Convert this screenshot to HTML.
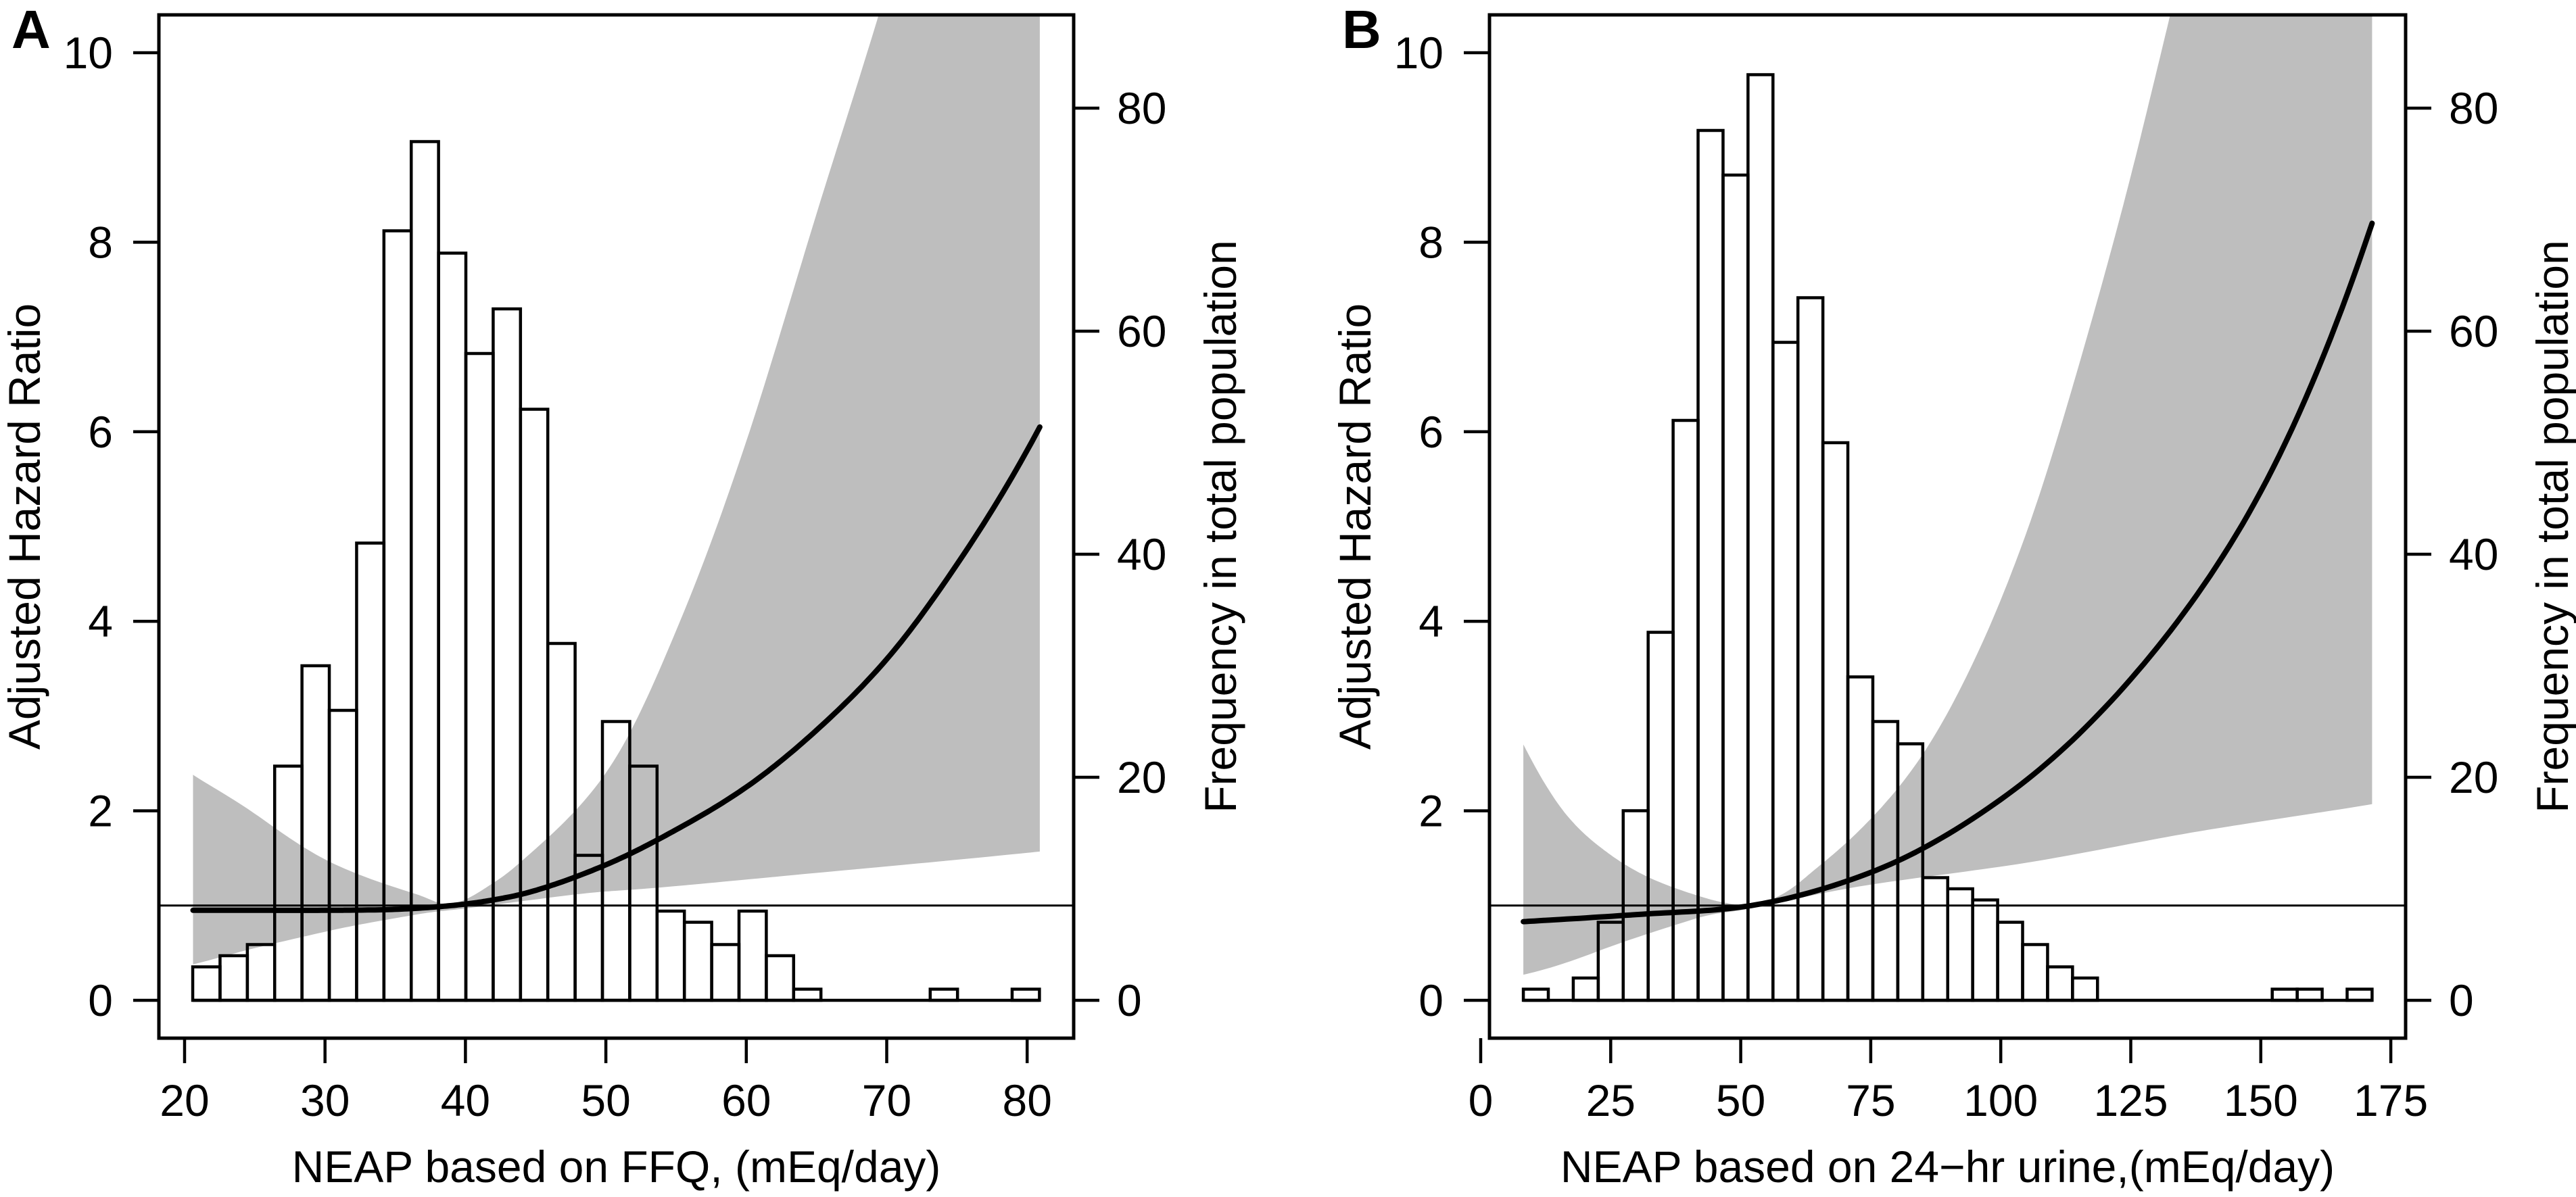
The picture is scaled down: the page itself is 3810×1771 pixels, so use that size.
<!DOCTYPE html>
<html><head><meta charset="utf-8"><style>
html,body{margin:0;padding:0;background:#fff}
svg{display:block}
text{font-family:"Liberation Sans",Arial,sans-serif;fill:#000}
</style></head><body>
<svg id="chart" width="3810" height="1771" viewBox="0 0 3810 1771" xmlns="http://www.w3.org/2000/svg">
<defs>
<clipPath id="clipA"><rect x="235" y="22" width="1353" height="1514"/></clipPath>
<clipPath id="clipB"><rect x="2203" y="22" width="1355" height="1514"/></clipPath>
</defs>
<g id="panelA"></g>
<g id="panelB"></g>
</svg>
<script>
// ----- Panel A data -----
const histA_start = 20.58;
const histA_width = 1.945;
const histA_counts = [3,4,5,21,30,26,41,69,77,67,58,62,53,32,13,25,21,8,7,5,8,4,1,0,0,0,0,1,0,0,1];
const curveA_x = [20.6,25,30,35,39,42,45,50,55,60,65,70,75,80.9];
const curveA_hr = [0.95,0.95,0.95,0.96,1.0,1.06,1.16,1.43,1.8,2.25,2.85,3.6,4.6,6.05];
const upperA_x = [20.6,24.7,30.5,36.3,39,42.1,45,50,55,60,65,71,76,80.9];
const upperA_hr = [2.38,2.0,1.45,1.13,1.02,1.25,1.6,2.4,3.9,5.9,8.3,11.2,14,17];
const lowerA_x = [20.6,24.7,30.5,36.3,40,48,53.8,65.4,80.9];
const lowerA_hr = [0.38,0.54,0.74,0.9,0.97,1.12,1.19,1.35,1.57];
const xTicksA = [20,30,40,50,60,70,80];
// ----- Panel B data -----
const histB_start = 8.2;
const histB_width = 4.8;
const histB_counts = [1,0,2,7,17,33,52,78,74,83,59,63,50,29,25,23,11,10,9,7,5,3,2,0,0,0,0,0,0,0,1,1,0,1];
const curveB_x = [8.2,30,52,75,100,125,150,171.4];
const curveB_hr = [0.83,0.905,1.0,1.35,2.12,3.39,5.37,8.2];
const upperB_x = [8.2,16.6,24.6,32.6,42,47,52,58,64.7,72,83.8,95,104.7,115,125,134.3,150,171.4];
const upperB_hr = [2.7,1.95,1.55,1.29,1.1,1.03,1.0,1.12,1.4,1.75,2.5,3.6,4.9,6.7,8.7,10.8,15,22];
const lowerB_x = [8.2,24.6,40.6,52,72.6,104.7,136.7,171.4];
const lowerB_hr = [0.27,0.56,0.85,0.97,1.2,1.45,1.77,2.07];
const xTicksB = [0,25,50,75,100,125,150,175];
const yTicksLeft = [0,2,4,6,8,10];
const yTicksRight = [0,20,40,60,80];

const NS = "http://www.w3.org/2000/svg";
function mk(parent, tag, attrs){ const e=document.createElementNS(NS,tag); for(const k in attrs) e.setAttribute(k,attrs[k]); parent.appendChild(e); return e; }
function sampleLog(xs, hs){
  const ls = hs.map(Math.log);
  const out=[];
  for(let i=0;i<xs.length-1;i++){
    const i0=Math.max(i-1,0), i3=Math.min(i+2,xs.length-1);
    for(let s=0;s<20;s++){
      const t=s/20;
      const cr=(p0,p1,p2,p3)=>0.5*((2*p1)+(-p0+p2)*t+(2*p0-5*p1+4*p2-p3)*t*t+(-p0+3*p1-3*p2+p3)*t*t*t);
      out.push([cr(xs[i0],xs[i],xs[i+1],xs[i3]), Math.exp(cr(ls[i0],ls[i],ls[i+1],ls[i3]))]);
    }
  }
  out.push([xs[xs.length-1],hs[hs.length-1]]);
  return out;
}
function poly(pts){ return pts.map((p,i)=>(i?"L":"M")+p[0].toFixed(1)+","+p[1].toFixed(1)).join(" "); }

function panel(g, cfg){
  const X = v => cfg.x0 + (v - cfg.xv0) * cfg.xs;
  const YL = v => 1480 - v * 140.2;
  const YR = v => 1480 - v * 16.5;
  const L=cfg.left, R=cfg.right, T=22, B=1536;
  const up = sampleLog(cfg.ux,cfg.uh).map(p=>[X(p[0]),YL(p[1])]);
  const lo = sampleLog(cfg.lx,cfg.lh).map(p=>[X(p[0]),YL(p[1])]).reverse();
  const band = mk(g,"path",{d: poly(up)+" "+poly(lo).replace(/^M/,"L")+" Z", fill:"#bebebe", stroke:"none", "clip-path":"url(#"+cfg.clip+")"});
  
  
  cfg.counts.forEach((c,i)=>{
    const x1=X(cfg.hs+i*cfg.hw), x2=X(cfg.hs+(i+1)*cfg.hw);
    if(c>0){
      const r=mk(g,"rect",{x:x1,y:YR(c),width:x2-x1,height:YR(0)-YR(c),fill:"none",stroke:"#000","stroke-width":4.5});
      
      
    }
  });
  const base=mk(g,"line",{x1:X(cfg.hs),x2:X(cfg.hs+cfg.counts.length*cfg.hw),y1:YR(0),y2:YR(0),stroke:"#000","stroke-width":4.5});
  
  
  const ref=mk(g,"line",{x1:L,x2:R,y1:YL(1),y2:YL(1),stroke:"#000","stroke-width":3});
  
  
  const cp = sampleLog(cfg.cx,cfg.ch).map(p=>[X(p[0]),YL(p[1])]);
  const cur=mk(g,"path",{d:poly(cp),fill:"none",stroke:"#000","stroke-width":8,"stroke-linecap":"round","stroke-linejoin":"round"});
  
  
  const box=mk(g,"rect",{x:L,y:T,width:R-L,height:B-T,fill:"none",stroke:"#000","stroke-width":5});
  
  
  cfg.xt.forEach(v=>{
    const t=mk(g,"line",{x1:X(v),x2:X(v),y1:B,y2:1573,stroke:"#000","stroke-width":4.5});
    
    
    const l=mk(g,"text",{x:X(v),y:1651,"font-size":66,"text-anchor":"middle"}); l.textContent=v;
    
    
  });
  yTicksLeft.forEach(v=>{
    const t=mk(g,"line",{x1:L-38,x2:L,y1:YL(v),y2:YL(v),stroke:"#000","stroke-width":4.5});
    
    
    const l=mk(g,"text",{x:L-68,y:YL(v)+23,"font-size":66,"text-anchor":"end"}); l.textContent=v;
    
    
  });
  yTicksRight.forEach(v=>{
    const t=mk(g,"line",{x1:R,x2:R+38,y1:YR(v),y2:YR(v),stroke:"#000","stroke-width":4.5});
    
    
    const l=mk(g,"text",{x:R+64,y:YR(v)+23,"font-size":66,"text-anchor":"start"}); l.textContent=v;
    
    
  });
  const xt=mk(g,"text",{x:(L+R)/2,y:1749,"font-size":66,"text-anchor":"middle"}); xt.textContent=cfg.xtitle;
  
  
  const yl=mk(g,"text",{x:0,y:0,"font-size":66,"text-anchor":"middle",transform:"translate("+(L-176)+",779) rotate(-90)"}); yl.textContent="Adjusted Hazard Ratio";
  
  
  const yr=mk(g,"text",{x:0,y:0,"font-size":66,"text-anchor":"middle",transform:"translate("+(R+240)+",779) rotate(-90)"}); yr.textContent="Frequency in total population";
  
  
  const pl=mk(g,"text",{x:L-218,y:71,"font-size":80,"font-weight":"bold"}); pl.textContent=cfg.label;
  
  
}
panel(document.getElementById("panelA"),{left:235,right:1588,x0:273,xv0:20,xs:20.77,clip:"clipA",
  hs:histA_start,hw:histA_width,counts:histA_counts,cx:curveA_x,ch:curveA_hr,ux:upperA_x,uh:upperA_hr,lx:lowerA_x,lh:lowerA_hr,
  xt:xTicksA,xtitle:"NEAP based on FFQ, (mEq/day)",label:"A"});
panel(document.getElementById("panelB"),{left:2203,right:3558,x0:2190,xv0:0,xs:7.692,clip:"clipB",
  hs:histB_start,hw:histB_width,counts:histB_counts,cx:curveB_x,ch:curveB_hr,ux:upperB_x,uh:upperB_hr,lx:lowerB_x,lh:lowerB_hr,
  xt:xTicksB,xtitle:"NEAP based on 24\u2212hr urine,(mEq/day)",label:"B"});
</script>
</body></html>
